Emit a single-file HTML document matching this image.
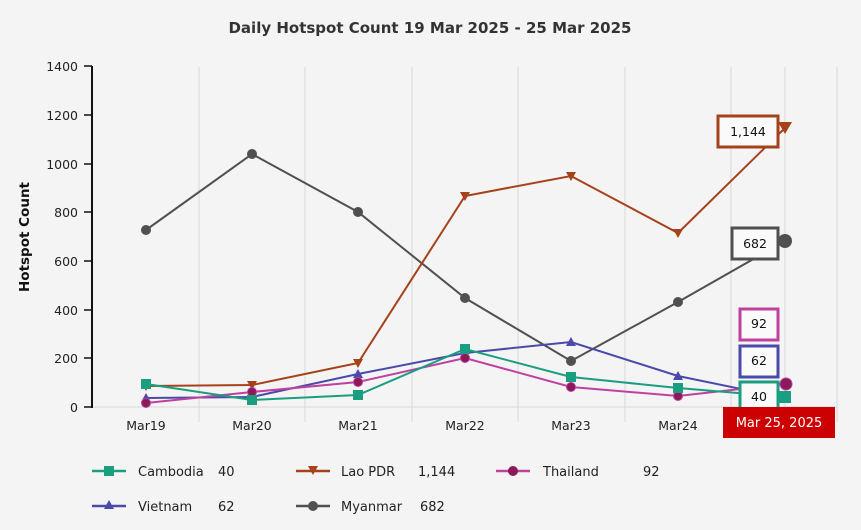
<!DOCTYPE html>
<html><head><meta charset="utf-8"><style>
body{margin:0;background:#f4f4f4;}
svg{display:block;font-family:"DejaVu Sans","Liberation Sans",sans-serif;}
</style></head><body>
<svg width="861" height="530" viewBox="0 0 861 530">
<rect width="861" height="530" fill="#f4f4f4"/>
<text x="430" y="33" text-anchor="middle" font-size="15" font-weight="bold" fill="#333">Daily Hotspot Count 19 Mar 2025 - 25 Mar 2025</text>
<g stroke="#d8d8d8" stroke-width="1">
<line x1="199" y1="67" x2="199" y2="422"/><line x1="305" y1="67" x2="305" y2="422"/>
<line x1="412" y1="67" x2="412" y2="422"/><line x1="518" y1="67" x2="518" y2="422"/>
<line x1="625" y1="67" x2="625" y2="422"/><line x1="731" y1="67" x2="731" y2="422"/>
<line x1="785" y1="67" x2="785" y2="422"/><line x1="837" y1="67" x2="837" y2="422"/>
<line x1="93" y1="407" x2="837" y2="407"/>
</g>
<line x1="92" y1="66" x2="92" y2="408" stroke="#111" stroke-width="2"/>
<g stroke="#111" stroke-width="1.5">
<line x1="84" y1="66" x2="92" y2="66"/><line x1="84" y1="115" x2="92" y2="115"/><line x1="84" y1="164" x2="92" y2="164"/><line x1="84" y1="212" x2="92" y2="212"/><line x1="84" y1="261" x2="92" y2="261"/><line x1="84" y1="310" x2="92" y2="310"/><line x1="84" y1="358" x2="92" y2="358"/><line x1="84" y1="407" x2="92" y2="407"/>
</g>
<g font-size="12.5" fill="#222" text-anchor="end">
<text x="78" y="71">1400</text><text x="78" y="120">1200</text><text x="78" y="169">1000</text><text x="78" y="217">800</text><text x="78" y="266">600</text><text x="78" y="315">400</text><text x="78" y="363">200</text><text x="78" y="412">0</text>
</g>
<text transform="translate(29,237) rotate(-90)" text-anchor="middle" font-size="13.5" font-weight="bold" fill="#111">Hotspot Count</text>
<g font-size="12.5" fill="#222" text-anchor="middle">
<text x="146" y="430">Mar19</text><text x="252" y="430">Mar20</text><text x="358" y="430">Mar21</text><text x="465" y="430">Mar22</text><text x="571" y="430">Mar23</text><text x="678" y="430">Mar24</text>
</g>
<polyline fill="none" stroke="#505050" stroke-width="2" points="146,230 252,154 358,212 465,298 571,361 678,302 785,241"/>
<g fill="#505050"><circle cx="146" cy="230" r="5"/><circle cx="252" cy="154" r="5"/><circle cx="358" cy="212" r="5"/><circle cx="465" cy="298" r="5"/><circle cx="571" cy="361" r="5"/><circle cx="678" cy="302" r="5"/><circle cx="785" cy="241" r="7"/></g>
<polyline fill="none" stroke="#a5421a" stroke-width="2" points="146,386 252,385 358,363 465,196 571,176 678,233 785,128"/>
<g fill="#a5421a">
<path d="M141,382h10l-5,9z"/><path d="M247,381h10l-5,9z"/><path d="M353,359h10l-5,9z"/><path d="M460,192h10l-5,9z"/><path d="M566,172h10l-5,9z"/><path d="M673,229h10l-5,9z"/><path d="M778,122h14l-7,12z"/></g>
<polyline fill="none" stroke="#4a4aaa" stroke-width="2" points="146,398 252,397 358,374 465,353 571,342 678,376 785,398"/>
<g fill="#4a4aaa"><path d="M146,393l5,9h-10z"/><path d="M252,392l5,9h-10z"/><path d="M358,369l5,9h-10z"/><path d="M465,348l5,9h-10z"/><path d="M571,337l5,9h-10z"/><path d="M678,371l5,9h-10z"/></g>
<polyline fill="none" stroke="#c040a0" stroke-width="2" points="146,403 252,392 358,382 465,358 571,387 678,396 786,384"/>
<g fill="#8a1a5a" stroke="#c040a0" stroke-width="1"><circle cx="146" cy="403" r="4.5"/><circle cx="252" cy="392" r="4.5"/><circle cx="358" cy="382" r="4.5"/><circle cx="465" cy="358" r="4.5"/><circle cx="571" cy="387" r="4.5"/><circle cx="678" cy="396" r="4.5"/><circle cx="786" cy="384" r="6"/></g>
<polyline fill="none" stroke="#1a9e80" stroke-width="2" points="146,384 252,400 358,395 465,349 571,377 678,388 785,397"/>
<g fill="#1a9e80"><rect x="141" y="379" width="10" height="10"/><rect x="247" y="395" width="10" height="10"/><rect x="353" y="390" width="10" height="10"/><rect x="460" y="344" width="10" height="10"/><rect x="566" y="372" width="10" height="10"/><rect x="673" y="383" width="10" height="10"/><rect x="779" y="391" width="12" height="12"/></g>
<g font-size="12.5" fill="#111" text-anchor="middle">
<rect x="718" y="116" width="60" height="31" fill="#fafafa" stroke="#a5421a" stroke-width="3"/><text x="748" y="136">1,144</text>
<rect x="732" y="228" width="46" height="31" fill="#fafafa" stroke="#505050" stroke-width="3"/><text x="755" y="248">682</text>
<rect x="740" y="309" width="38" height="31" fill="#fafafa" stroke="#c040a0" stroke-width="3"/><text x="759" y="328">92</text>
<rect x="740" y="346" width="38" height="31" fill="#fafafa" stroke="#4a4aaa" stroke-width="3"/><text x="759" y="365">62</text>
<rect x="740" y="382" width="38" height="30" fill="#fafafa" stroke="#1a9e80" stroke-width="3"/><text x="759" y="401">40</text>
</g>
<rect x="723" y="407" width="112" height="31" fill="#cc0000"/>
<text x="779" y="427" text-anchor="middle" font-size="13" fill="#fff">Mar 25, 2025</text>
<g font-size="13" fill="#222">
<line x1="92" y1="471" x2="126" y2="471" stroke="#1a9e80" stroke-width="2.5"/><rect x="104" y="466" width="10" height="10" fill="#1a9e80"/><text x="138" y="476">Cambodia</text><text x="218" y="476">40</text>
<line x1="296" y1="471" x2="330" y2="471" stroke="#a5421a" stroke-width="2.5"/><path d="M308,466h10l-5,9z" fill="#a5421a"/><text x="341" y="476">Lao PDR</text><text x="418" y="476">1,144</text>
<line x1="496" y1="471" x2="530" y2="471" stroke="#c040a0" stroke-width="2.5"/><circle cx="513" cy="471" r="5" fill="#8a1a5a"/><text x="543" y="476">Thailand</text><text x="643" y="476">92</text>
<line x1="92" y1="506" x2="126" y2="506" stroke="#4a4aaa" stroke-width="2.5"/><path d="M109,500l5,9h-10z" fill="#4a4aaa"/><text x="138" y="511">Vietnam</text><text x="218" y="511">62</text>
<line x1="296" y1="506" x2="330" y2="506" stroke="#505050" stroke-width="2.5"/><circle cx="313" cy="506" r="5" fill="#505050"/><text x="341" y="511">Myanmar</text><text x="420" y="511">682</text>
</g>
</svg>
</body></html>
